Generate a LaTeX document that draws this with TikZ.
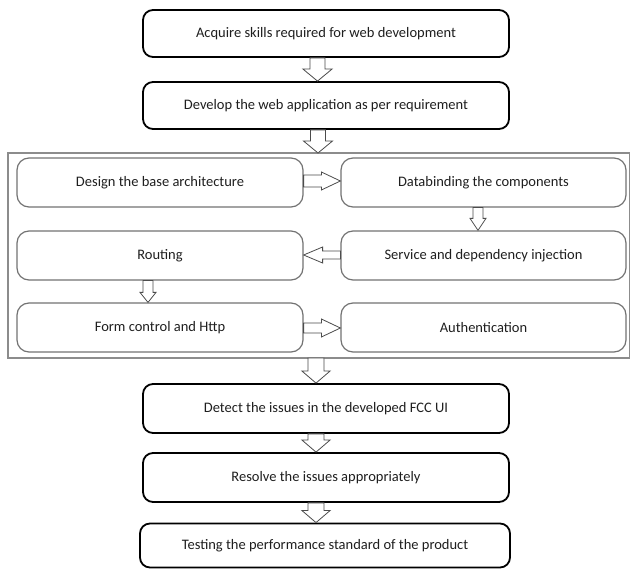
\documentclass[tikz,border=0pt]{standalone}
\usepackage{fontspec}
\setmainfont{Carlito}
\usetikzlibrary{calc}
\tikzset{
  mainbox/.style={draw=black, line width=1.8pt, rounded corners=10pt, fill=white},
  innerbox/.style={draw=black!55, line width=1.2pt, rounded corners=12pt, fill=white},
  frame/.style={draw=black!45, line width=1.2pt},
  barrow/.style={draw=black!70, line width=0.8pt, fill=white, line join=miter},
  lbl/.style={font=\fontsize{14.5}{17}\selectfont, text=black!88},
}
% vertical block arrow: #1 x (pt), #2 from anchor, #3 to anchor, #4 shaft half, #5 head half, #6 head length
\newcommand\vblk[6]{%
  \draw[barrow] let \p1=(#2), \p2=(#3) in
    (#1pt-#4pt,\y1) -- (#1pt-#4pt,\y2+#6pt) -- (#1pt-#5pt,\y2+#6pt) -- (#1pt,\y2)
    -- (#1pt+#5pt,\y2+#6pt) -- (#1pt+#4pt,\y2+#6pt) -- (#1pt+#4pt,\y1) -- cycle;}
% horizontal block arrow: #1 y (downward units), #2 from, #3 to, #4 shaft half, #5 head half, #6 signed head length
\newcommand\hblk[6]{%
  \draw[barrow] let \p1=(#2), \p2=(#3), \p3=(0,#1) in
    (\x1,\y3-#4pt) -- (\x2-#6pt,\y3-#4pt) -- (\x2-#6pt,\y3-#5pt) -- (\x2,\y3)
    -- (\x2-#6pt,\y3+#5pt) -- (\x2-#6pt,\y3+#4pt) -- (\x1,\y3+#4pt) -- cycle;}
\begin{document}
\begin{tikzpicture}[x=1pt,y=-1pt]
\useasboundingbox (0,0) rectangle (630,569);
\fill[white] (0,0) rectangle (630,569);
% container
\draw[frame] (8,153) rectangle (629.4,358);
\coordinate (ctop) at (318,153);
\coordinate (cbot) at (316,358);
% main boxes
\node[mainbox, minimum width=366pt, minimum height=47pt, lbl] (a1) at (326,33.5) {Acquire skills required for web development};
\node[mainbox, minimum width=366pt, minimum height=47pt, lbl] (a2) at (326,105.5) {Develop the web application as per requirement};
\node[mainbox, minimum width=366pt, minimum height=49pt, lbl] (a3) at (326,408.5) {Detect the issues in the developed FCC UI};
\node[mainbox, minimum width=366pt, minimum height=49pt, lbl] (a4) at (326,477.5) {Resolve the issues appropriately};
\node[mainbox, minimum width=370pt, minimum height=44pt, lbl] (a5) at (325,545.5) {Testing the performance standard of the product};
% inner boxes
\node[innerbox, minimum width=286pt, minimum height=49pt, lbl] (l1) at (160,182.5) {Design the base architecture};
\node[innerbox, minimum width=285pt, minimum height=49pt, lbl] (r1) at (483.5,182.5) {Databinding the components};
\node[innerbox, minimum width=286pt, minimum height=49pt, lbl] (l2) at (160,255.5) {Routing};
\node[innerbox, minimum width=285pt, minimum height=49pt, lbl] (r2) at (483.5,255.5) {Service and dependency injection};
\node[innerbox, minimum width=286pt, minimum height=49pt, lbl] (l3) at (160,327.5) {Form control and Http};
\node[innerbox, minimum width=285pt, minimum height=49pt, lbl] (r3) at (483.5,327.5) {Authentication};
% arrows
\vblk{317.5}{a1.south}{a2.north}{7.5}{14.5}{12}
\vblk{318}{a2.south}{ctop}{7.5}{14.5}{12}
\vblk{316}{cbot}{a3.north}{8}{14}{12}
\vblk{316}{a3.south}{a4.north}{8}{14}{12}
\vblk{316}{a4.south}{a5.north}{8}{14}{12}
\hblk{181}{l1.east}{r1.west}{6}{9}{19}
\vblk{478}{r1.south}{r2.north}{5}{8}{12}
\hblk{255}{r2.west}{l2.east}{4}{8}{-19}
\vblk{148}{l2.south}{l3.north}{5}{8}{10}
\hblk{328}{l3.east}{r3.west}{5}{9}{19}
\end{tikzpicture}
\end{document}
